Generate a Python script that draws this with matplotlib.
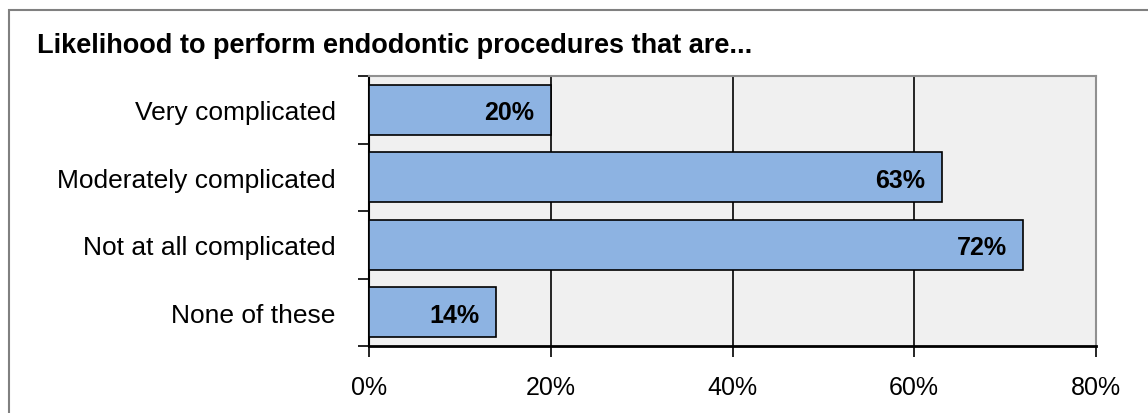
import matplotlib.pyplot as plt
from matplotlib.patches import Rectangle

plt.rcParams['font.family'] = ['Liberation Sans', 'DejaVu Sans']

categories = ['Very complicated', 'Moderately complicated', 'Not at all complicated', 'None of these']
values = [20, 63, 72, 14]
xticks = [0, 20, 40, 60, 80]
xticklabels = ['0%', '20%', '40%', '60%', '80%']

fig = plt.figure(figsize=(11.48, 4.14), dpi=100)
fig.patch.set_facecolor('white')

# outer frame, cut off at right and bottom like the original
fig.patches.append(Rectangle((9/1148, -0.1), 1.2, 1 - 11/414 + 0.1, transform=fig.transFigure,
                             fill=False, edgecolor='#808080', linewidth=1.5))

ax = fig.add_axes([369/1148, 1 - 347/414, (1096 - 369)/1148, (347 - 77)/414])
ax.set_facecolor('#F0F0F0')

pos = list(range(len(categories)))
ax.barh(pos, values, height=0.74, color='#8DB3E2', edgecolor='black', linewidth=1.2, zorder=3)
for p, v in zip(pos, values):
    ax.text(v - 1.8, p + 0.04, f'{v}%', ha='right', va='center', fontsize=18, fontweight='bold', zorder=4)

ax.set_xlim(0, 80)
ax.set_ylim(len(categories) - 0.5, -0.5)
ax.set_xticks(xticks)
ax.set_xticklabels(xticklabels, fontsize=18)
ax.set_yticks(pos)
ax.set_yticklabels(categories, fontsize=19)
ax.tick_params(axis='y', length=0, pad=24)
ax.set_yticks([i - 0.5 for i in range(len(categories) + 1)], minor=True)
ax.tick_params(axis='y', which='minor', length=8, width=1.2, direction='out')
ax.tick_params(axis='x', length=8, width=1.2, direction='out', pad=13)

for x in xticks[1:-1]:
    ax.axvline(x, color='black', linewidth=1.2, zorder=2)

ax.spines['left'].set_color('black')
ax.spines['bottom'].set_color('black')
ax.spines['left'].set_linewidth(1.5)
ax.spines['bottom'].set_linewidth(2)
ax.spines['top'].set_color('#909090')
ax.spines['right'].set_color('#909090')
ax.spines['top'].set_linewidth(1.5)
ax.spines['right'].set_linewidth(1.5)

fig.text(37/1148, 1 - 46/414, 'Likelihood to perform endodontic procedures that are...',
         fontsize=19.5, fontweight='bold', ha='left', va='center')

fig.savefig('out.png', dpi=100)
